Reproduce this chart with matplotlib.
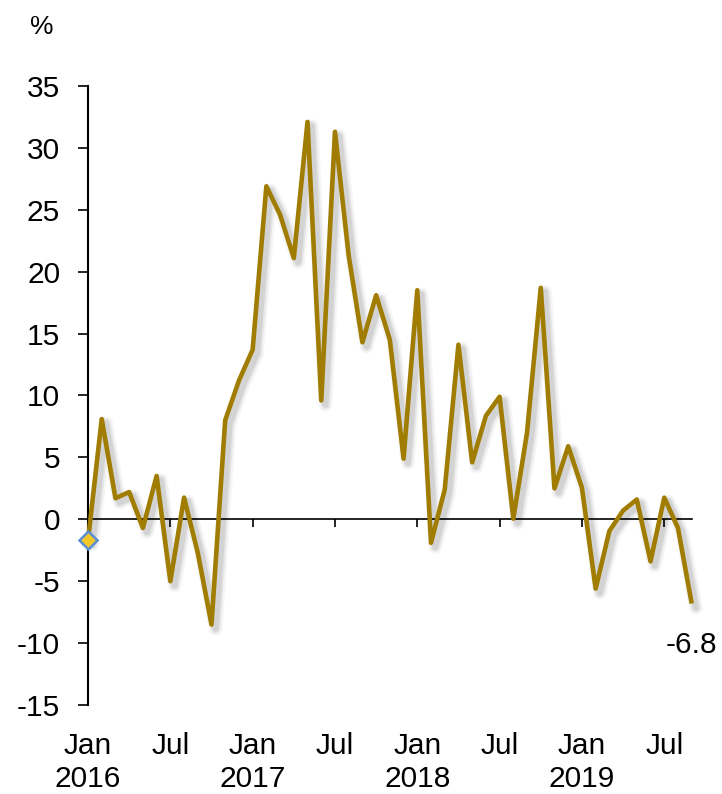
import matplotlib.pyplot as plt
import matplotlib.patheffects as pe
from matplotlib.transforms import blended_transform_factory

plt.rcParams['font.family'] = ['Liberation Sans', 'DejaVu Sans']
plt.rcParams['axes.unicode_minus'] = False

# monthly % change, Jan 2016 - Sep 2019
values = [-1.7, 8.1, 1.7, 2.2, -0.7, 3.5, -5.0, 1.75, -2.7, -8.5,
          8.0, 11.2, 13.7, 26.9, 24.6, 21.1, 32.1, 9.6, 31.3, 21.3,
          14.3, 18.1, 14.5, 4.9, 18.5, -1.9, 2.4, 14.1, 4.6, 8.35,
          9.9, 0.05, 7.0, 18.7, 2.5, 5.9, 2.55, -5.6, -0.95, 0.7,
          1.6, -3.4, 1.75, -0.7, -6.8]
tick_months = [6, 12, 18, 24, 30, 36, 42]
label_months = [0, 6, 12, 18, 24, 30, 36, 42]
month_labels = ['Jan\n2016', 'Jul', 'Jan\n2017', 'Jul', 'Jan\n2018', 'Jul',
                'Jan\n2019', 'Jul']
y_ticks = [-15, -10, -5, 0, 5, 10, 15, 20, 25, 30, 35]

x = list(range(len(values)))
line_color = '#A07C00'

fig = plt.figure(figsize=(7.22, 7.94), dpi=100)
ax = fig.add_axes([0.1219, 0.1121, 0.958 - 0.1219, 0.8917 - 0.1121])

# soft drop shadow built from a few stacked offset strokes
shadow = [
    pe.SimpleLineShadow(offset=(3, -3), shadow_color='black', alpha=0.04,
                        linewidth=10, joinstyle='round', capstyle='round'),
    pe.SimpleLineShadow(offset=(3, -3), shadow_color='black', alpha=0.06,
                        linewidth=7, joinstyle='round', capstyle='round'),
    pe.SimpleLineShadow(offset=(3, -3), shadow_color='black', alpha=0.08,
                        linewidth=4.5, joinstyle='round', capstyle='round'),
    pe.Normal(),
]
ax.plot(x, values, color=line_color, lw=3.3, solid_joinstyle='round',
        solid_capstyle='butt', path_effects=shadow, zorder=3, clip_on=False)
ax.plot([x[0]], [values[0]], marker='D', ms=9, mfc='#F2C828', mec='#5B8FD0',
        mew=1.8, zorder=4, clip_on=False)

ax.set_xlim(0, len(values) - 1)
ax.set_ylim(-15, 35)
ax.set_yticks(y_ticks)
ax.tick_params(axis='y', direction='out', length=7, width=1.2, pad=13,
               labelsize=21.5)
ax.set_xticks(tick_months)
ax.set_xticklabels([])
ax.tick_params(axis='x', direction='out', length=6, width=1.2)

for side in ['top', 'right']:
    ax.spines[side].set_visible(False)
ax.spines['bottom'].set_position(('data', 0))
ax.spines['bottom'].set_linewidth(1.2)
ax.spines['left'].set_linewidth(1.5)

trans = blended_transform_factory(ax.transData, ax.transAxes)
for m, lab in zip(label_months, month_labels):
    ax.text(m, -0.043, lab, transform=trans, ha='center', va='top',
            fontsize=21.5, linespacing=1.25)

ax.text(len(values) - 1, -6.8 - 2.2, '-6.8', ha='center', va='top',
        fontsize=21.5)
fig.text(42 / 722, 1 - 27 / 794, '%', ha='center', va='center', fontsize=19)

fig.savefig('out.png', dpi=100)
